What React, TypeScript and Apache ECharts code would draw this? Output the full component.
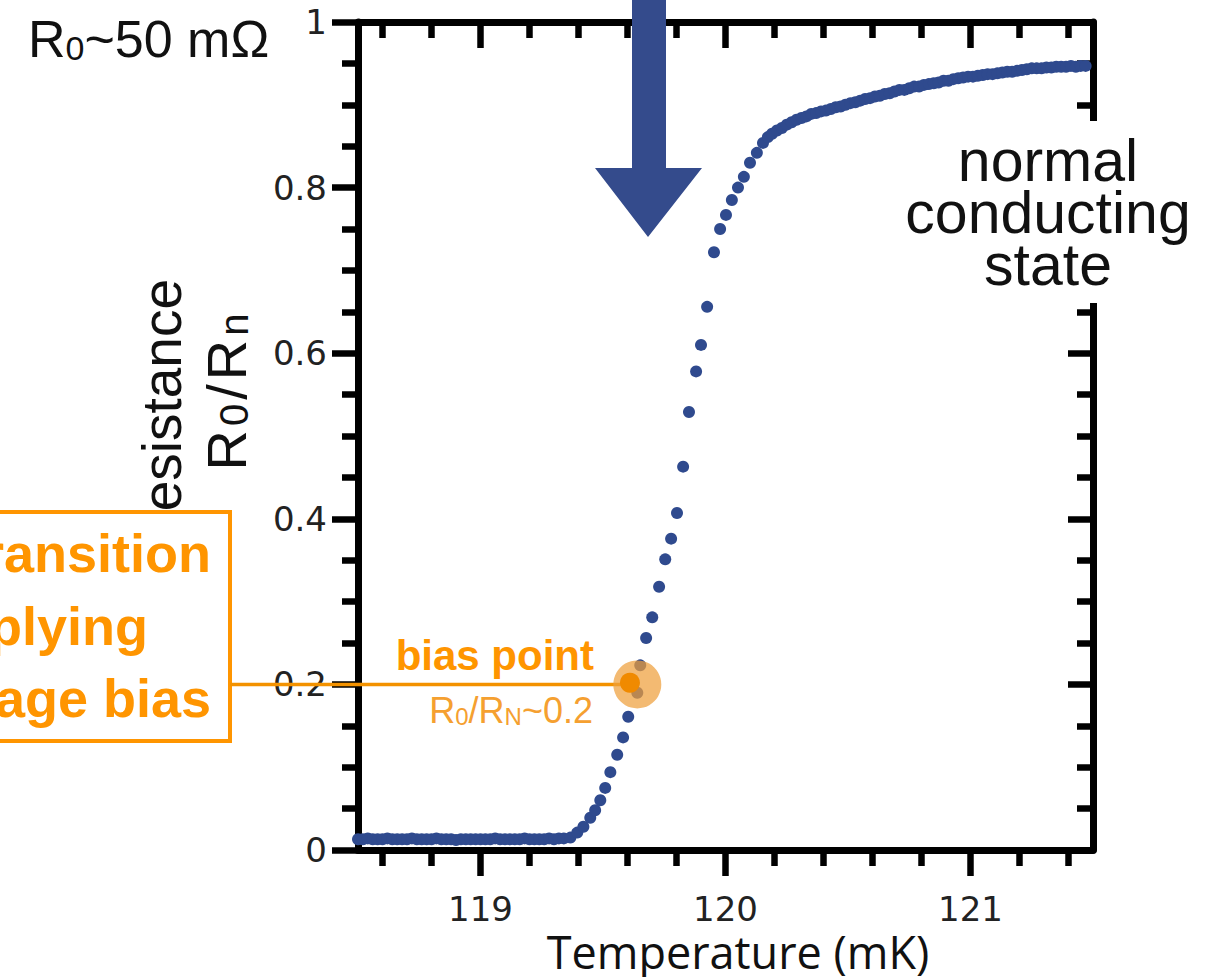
import React, { useEffect, useRef } from "react";
import * as echarts from "echarts";

// Temperature (mK), normalized resistance R0/Rn
const lowBranch: [number, number][] = [
  [118.5, 0.013], [118.52, 0.013], [118.54, 0.014], [118.56, 0.013], [118.58, 0.013],
  [118.6, 0.013], [118.62, 0.014], [118.64, 0.013], [118.66, 0.013], [118.68, 0.013],
  [118.7, 0.013], [118.72, 0.014], [118.74, 0.013], [118.76, 0.013], [118.78, 0.013],
  [118.8, 0.013], [118.82, 0.014], [118.84, 0.013], [118.86, 0.013], [118.88, 0.013],
  [118.9, 0.012], [118.92, 0.013], [118.94, 0.013], [118.96, 0.013], [118.98, 0.013],
  [119.0, 0.013], [119.02, 0.013], [119.04, 0.013], [119.06, 0.014], [119.08, 0.013],
  [119.1, 0.013], [119.12, 0.013], [119.14, 0.013], [119.16, 0.013], [119.18, 0.014],
  [119.2, 0.013], [119.22, 0.013], [119.24, 0.013], [119.26, 0.013], [119.28, 0.014],
  [119.3, 0.013], [119.32, 0.014], [119.34, 0.014],
];

const transitionBranch: [number, number][] = [
  [119.367, 0.015], [119.395, 0.021], [119.42, 0.028], [119.448, 0.039], [119.468, 0.048],
  [119.489, 0.06], [119.509, 0.075], [119.53, 0.094], [119.558, 0.115], [119.582, 0.136],
  [119.603, 0.161], [119.64, 0.19], [119.652, 0.223], [119.676, 0.256], [119.701, 0.281],
  [119.729, 0.318], [119.754, 0.351], [119.778, 0.376], [119.802, 0.407], [119.827, 0.463],
  [119.851, 0.529], [119.88, 0.578], [119.9, 0.61], [119.925, 0.656], [119.953, 0.722],
  [119.978, 0.75], [120.002, 0.767], [120.026, 0.785], [120.051, 0.8], [120.075, 0.813],
  [120.1, 0.83], [120.128, 0.842], [120.153, 0.854], [120.173, 0.861],
];

const highBranch: [number, number][] = [
  [120.19, 0.865], [120.21, 0.869], [120.23, 0.872], [120.25, 0.876], [120.27, 0.879],
  [120.29, 0.882], [120.31, 0.884], [120.33, 0.886], [120.35, 0.889], [120.37, 0.89],
  [120.39, 0.892], [120.41, 0.893], [120.43, 0.895], [120.45, 0.897], [120.47, 0.898],
  [120.49, 0.9], [120.51, 0.902], [120.53, 0.903], [120.55, 0.905], [120.57, 0.907],
  [120.59, 0.908], [120.61, 0.91], [120.63, 0.911], [120.65, 0.913], [120.67, 0.914],
  [120.69, 0.916], [120.71, 0.918], [120.73, 0.918], [120.75, 0.92], [120.77, 0.922],
  [120.79, 0.922], [120.81, 0.924], [120.83, 0.925], [120.85, 0.926], [120.87, 0.927],
  [120.89, 0.929], [120.91, 0.929], [120.93, 0.931], [120.95, 0.932], [120.97, 0.933],
  [120.99, 0.934], [121.01, 0.934], [121.03, 0.935], [121.05, 0.936], [121.07, 0.937],
  [121.09, 0.937], [121.11, 0.938], [121.13, 0.939], [121.15, 0.94], [121.17, 0.94],
  [121.19, 0.941], [121.21, 0.942], [121.23, 0.943], [121.25, 0.944], [121.27, 0.944],
  [121.29, 0.944], [121.31, 0.945], [121.33, 0.945], [121.35, 0.946], [121.37, 0.946],
  [121.39, 0.946], [121.41, 0.947], [121.43, 0.946], [121.45, 0.947], [121.47, 0.947],
];

const xMajorTicks = [119, 120, 121];
const xMinorTicks = [118.6, 118.8, 119.2, 119.4, 119.6, 119.8, 120.2, 120.4, 120.6, 120.8, 121.2, 121.4];
const xRange = [118.5, 121.5];
const yRange = [0, 1];

const biasPoint: [number, number] = [119.64, 0.2];
const biasMarker: [number, number] = [119.61, 0.202];

const ORANGE = "#ff9500";
const BLUE = "#2f4a8e";
const AXIS = "#000";

export default function App() {
  const ref = useRef<HTMLDivElement>(null);

  useEffect(() => {
    const chart = echarts.init(ref.current!, null, { renderer: "svg" });
    const tickStyle = { color: AXIS, width: 6.5 };
    const lineStyle = { color: AXIS, width: 7 };
    const tickFont = { fontFamily: "DejaVu Sans", fontSize: 34, color: "#222" };
    const baseX: any = {
      type: "value",
      min: xRange[0],
      max: xRange[1],
      splitLine: { show: false },
      axisLine: { show: false, onZero: false },
      axisLabel: { show: false },
      axisTick: { show: false },
    };
    const option: any = {
      animation: false,
      grid: { left: 358, right: 133, top: 22, bottom: 127, containLabel: false, outerBoundsMode: "none" },
      xAxis: [
        {
          ...baseX,
          position: "bottom",
          axisLine: { show: true, onZero: false, lineStyle },
          axisTick: { show: true, customValues: xMajorTicks, length: 26, lineStyle: tickStyle },
          axisLabel: { show: true, customValues: xMajorTicks, margin: 42, ...tickFont },
        },
        {
          ...baseX,
          position: "bottom",
          axisTick: { show: true, customValues: xMinorTicks, length: 16, lineStyle: tickStyle },
        },
        {
          ...baseX,
          position: "top",
          axisLine: { show: true, onZero: false, lineStyle },
          axisTick: { show: true, inside: true, customValues: xMajorTicks, length: 26, lineStyle: tickStyle },
        },
        {
          ...baseX,
          position: "top",
          axisTick: { show: true, inside: true, customValues: xMinorTicks, length: 16, lineStyle: tickStyle },
        },
      ],
      yAxis: [
        {
          type: "value",
          min: yRange[0],
          max: yRange[1],
          interval: 0.2,
          position: "left",
          splitLine: { show: false },
          axisLine: { show: true, onZero: false, lineStyle },
          axisTick: { show: true, length: 26, lineStyle: tickStyle },
          minorTick: { show: true, splitNumber: 4, length: 16, lineStyle: tickStyle },
          axisLabel: {
            margin: 31,
            ...tickFont,
            formatter: (v: number) => (v === 0 ? "0" : v === 1 ? "1" : v.toFixed(1)),
          },
        },
        {
          type: "value",
          min: yRange[0],
          max: yRange[1],
          interval: 0.2,
          position: "right",
          splitLine: { show: false },
          axisLine: { show: true, onZero: false, lineStyle },
          axisTick: { show: true, inside: true, length: 25, lineStyle: tickStyle },
          minorTick: { show: true, splitNumber: 4, length: 16, lineStyle: tickStyle },
          axisLabel: { show: false },
        },
      ],
      series: [
        {
          type: "scatter",
          xAxisIndex: 0,
          yAxisIndex: 0,
          symbolSize: 12,
          itemStyle: { color: BLUE, opacity: 1 },
          data: [...lowBranch, ...transitionBranch, ...highBranch],
        },
      ],
    };
    chart.setOption(option);

    const bp = chart.convertToPixel({ seriesIndex: 0 }, biasPoint) as number[];
    const bm = chart.convertToPixel({ seriesIndex: 0 }, biasMarker) as number[];

    const ylab = (fs: number, pad: number) => ({
      fontFamily: "Liberation Sans",
      fontSize: fs,
      lineHeight: 60,
      verticalAlign: "bottom",
      fill: "#111",
      padding: [0, pad, 0, 0],
    });

    const elements: any[] = [
      {
        type: "text",
        x: 162,
        y: 415,
        rotation: Math.PI / 2,
        z: 10,
        style: { text: "Resistance", fontFamily: "Liberation Sans", fontSize: 55, fill: "#111", align: "center", verticalAlign: "middle" },
      },
      {
        type: "text",
        x: 224,
        y: 390,
        rotation: Math.PI / 2,
        z: 10,
        style: {
          text: "{a|R}{b|0}{a|/}{a|R}{b|n}",
          align: "center",
          verticalAlign: "middle",
          fill: "#111",
          rich: {
            a: ylab(56, 4),
            b: { ...ylab(40, 4), lineHeight: 42 },
          },
        },
      },
      {
        type: "text",
        x: 28,
        y: 37,
        z: 10,
        style: {
          text: "{a|R}{b|0}{a|~50 mΩ}",
          align: "left",
          verticalAlign: "middle",
          rich: {
            a: { fontFamily: "Liberation Sans", fontSize: 52, lineHeight: 56, verticalAlign: "bottom", fill: "#111" },
            b: { fontFamily: "Liberation Sans", fontSize: 34, lineHeight: 34, verticalAlign: "bottom", fill: "#111" },
          },
        },
      },
      {
        type: "text",
        x: 738,
        y: 951,
        z: 10,
        style: { text: "Temperature (mK)", fontFamily: "Open Sans", fontSize: 45, fill: "#111", align: "center", verticalAlign: "middle" },
      },
      {
        type: "polygon",
        z: 10,
        shape: { points: [[632, -5], [666, -5], [666, 168], [702, 168], [648, 237], [595, 168], [632, 168]] },
        style: { fill: "#344b8c" },
      },
      {
        type: "rect",
        z: 10,
        shape: { x: 898, y: 121, width: 320, height: 182 },
        style: { fill: "#fff" },
      },
      {
        type: "text",
        x: 1048,
        y: 213,
        z: 11,
        style: {
          text: "normal\nconducting\nstate",
          fontFamily: "Liberation Sans",
          fontSize: 59,
          lineHeight: 52,
          fill: "#111",
          align: "center",
          verticalAlign: "middle",
        },
      },
      {
        type: "rect",
        z: 10,
        shape: { x: -10, y: 512, width: 240, height: 229 },
        style: { fill: "#fff", stroke: ORANGE, lineWidth: 4 },
      },
      {
        type: "text", x: 211, y: 553, z: 11,
        style: { text: "Transition", fontFamily: "Liberation Sans", fontWeight: "bold", fontSize: 54, fill: ORANGE, align: "right", verticalAlign: "middle" },
      },
      {
        type: "text", x: 148, y: 626, z: 11,
        style: { text: "applying", fontFamily: "Liberation Sans", fontWeight: "bold", fontSize: 54, fill: ORANGE, align: "right", verticalAlign: "middle" },
      },
      {
        type: "text", x: 211, y: 698, z: 11,
        style: { text: "voltage bias", fontFamily: "Liberation Sans", fontWeight: "bold", fontSize: 54, fill: ORANGE, align: "right", verticalAlign: "middle" },
      },
      {
        type: "line",
        z: 12,
        shape: { x1: 230, y1: bp[1], x2: bm[0], y2: bp[1] },
        style: { stroke: "#f39200", lineWidth: 3.5 },
      },
      {
        type: "text", x: 594, y: 655, z: 12,
        style: { text: "bias point", fontFamily: "Liberation Sans", fontWeight: "bold", fontSize: 42, fill: ORANGE, align: "right", verticalAlign: "middle" },
      },
      {
        type: "text", x: 593, y: 708, z: 12,
        style: {
          text: "{a|R}{b|0}{a|/R}{b|N}{a|~0.2}",
          align: "right",
          verticalAlign: "middle",
          rich: {
            a: { fontFamily: "Liberation Sans", fontSize: 36, lineHeight: 40, verticalAlign: "bottom", fill: "#f5a030" },
            b: { fontFamily: "Liberation Sans", fontSize: 24, lineHeight: 24, verticalAlign: "bottom", fill: "#f5a030" },
          },
        },
      },
      {
        type: "circle",
        z: 13,
        shape: { cx: bp[0], cy: bp[1], r: 24 },
        style: { fill: "rgba(238,160,60,0.72)" },
      },
      {
        type: "circle",
        z: 14,
        shape: { cx: bm[0], cy: bm[1], r: 10 },
        style: { fill: "#f08a00" },
      },
    ];

    chart.setOption({ graphic: { elements } });

    return () => chart.dispose();
  }, []);

  return (
    <div
      ref={ref}
      style={{ position: "absolute", left: 0, top: 0, width: 1226, height: 977, background: "#fff" }}
    />
  );
}
